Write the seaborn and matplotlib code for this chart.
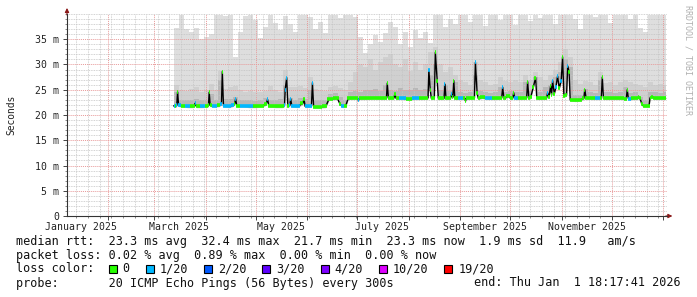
import numpy as np
import matplotlib
matplotlib.use("Agg")
import matplotlib.pyplot as plt
from matplotlib.patches import Rectangle
import seaborn as sns

# ---------------- data (x = days since 2025-01-01, y = milliseconds) ----------------
smoke_days = [70.5, 73.5, 76.5, 79.5, 82.5, 85.5, 88.5, 91.5, 94.5, 97.5,
              100.5, 103.5, 106.5, 109.5, 112.5, 115.5, 118.5, 121.5, 124.5, 127.5,
              130.5, 133.5, 136.5, 139.5, 142.5, 145.5, 148.5, 151.5, 154.5, 157.5,
              160.5, 163.5, 166.5, 169.5, 172.5, 175.5, 178.5, 181.5, 184.5, 187.5,
              190.5, 193.5, 196.5, 199.5, 202.5, 205.5, 208.5, 211.5, 214.5, 217.5,
              220.5, 223.5, 226.5, 229.5, 232.5, 235.5, 238.5, 241.5, 244.5, 247.5,
              250.5, 253.5, 256.5, 259.5, 262.5, 265.5, 268.5, 271.5, 274.5, 277.5,
              280.5, 283.5, 286.5, 289.5, 292.5, 295.5, 298.5, 301.5, 304.5, 307.5,
              310.5, 313.5, 316.5, 319.5, 322.5, 325.5, 328.5, 331.5, 334.5, 337.5,
              340.5, 343.5, 346.5, 349.5, 352.5, 355.5, 358.5, 361.5, 364.5, 366.4]

smoke_max = [37.2, 39.8, 37.0, 36.5, 37.3, 35.0, 35.4, 36.0, 39.8, 39.8,
             39.6, 39.8, 31.5, 36.4, 39.6, 39.8, 38.9, 35.2, 37.5, 39.8,
             38.2, 36.8, 39.6, 38.0, 36.5, 39.8, 39.8, 39.5, 37.0, 38.4,
             36.2, 39.8, 39.8, 39.2, 39.8, 39.8, 39.5, 35.5, 32.2, 34.0,
             35.8, 34.5, 36.2, 38.4, 37.4, 34.0, 36.5, 33.5, 36.8, 35.2,
             36.4, 34.2, 39.8, 39.8, 37.5, 39.0, 38.0, 39.8, 39.8, 38.5,
             39.8, 39.8, 37.6, 39.8, 39.8, 38.8, 39.8, 39.8, 37.8, 39.8,
             39.8, 38.6, 39.8, 39.2, 39.8, 39.8, 38.0, 39.8, 39.8, 39.8,
             39.0, 37.0, 39.8, 39.8, 39.4, 39.8, 39.8, 38.2, 39.8, 39.8,
             39.8, 39.0, 39.8, 37.2, 36.4, 39.8, 39.8, 39.8, 39.8, 39.8]

smoke_mid = [26.0, 25.0, 24.8, 25.2, 25.5, 24.6, 25.0, 26.2, 25.0, 28.8,
             25.2, 25.5, 25.8, 25.0, 24.6, 24.8, 24.5, 24.6, 24.8, 25.8,
             25.0, 24.5, 29.0, 25.5, 25.5, 25.8, 25.4, 27.5, 25.2, 25.0,
             24.8, 25.6, 25.8, 25.4, 25.0, 26.5, 28.5, 30.0, 29.5, 31.0,
             29.0, 30.5, 31.5, 32.0, 30.0, 29.5, 31.0, 28.8, 30.5, 29.0,
             30.0, 32.5, 33.5, 30.0, 28.5, 29.5, 28.0, 27.0, 26.5, 26.0,
             30.5, 27.0, 26.5, 26.0, 26.2, 27.5, 26.8, 26.5, 27.0, 26.5,
             28.0, 27.0, 28.5, 27.5, 27.0, 28.0, 29.0, 30.5, 33.0, 31.5,
             27.0, 26.2, 26.8, 26.5, 26.0, 28.5, 26.4, 26.5, 26.0, 26.5,
             27.0, 26.5, 26.2, 26.0, 25.5, 26.5, 26.0, 26.2, 26.0, 26.0]

smoke_in = [24.5, 23.0, 22.9, 23.0, 23.2, 22.9, 23.0, 24.2, 23.0, 27.0,
            23.1, 23.2, 23.6, 23.0, 22.9, 23.0, 22.8, 23.0, 23.4, 23.0,
            22.9, 23.2, 26.0, 23.4, 23.0, 23.4, 23.1, 25.0, 22.9, 23.0,
            22.9, 24.2, 24.4, 23.5, 23.0, 24.5, 24.8, 24.6, 25.0, 24.9,
            25.2, 24.8, 26.0, 25.0, 24.8, 25.3, 25.0, 24.9, 25.4, 25.0,
            25.2, 28.0, 30.0, 25.0, 26.0, 24.8, 26.5, 24.6, 24.4, 24.5,
            28.0, 24.8, 24.5, 24.4, 24.6, 25.6, 24.6, 24.8, 24.5, 24.6,
            26.5, 24.8, 27.5, 24.6, 25.5, 26.0, 27.5, 28.5, 31.0, 29.5,
            24.0, 23.9, 25.2, 24.5, 24.4, 27.0, 24.6, 24.5, 24.4, 24.5,
            25.5, 24.4, 24.6, 23.5, 23.0, 24.5, 24.6, 24.4, 24.6, 24.6]

med_days = [70.5, 72.0, 72.4, 72.9, 73.5, 76.0, 79.0, 82.0, 82.8, 83.4,
            84.2, 88.0, 91.0, 91.5, 91.9, 92.5, 95.0, 98.0, 99.3, 99.8,
            100.5, 104.0, 106.0, 107.2, 107.8, 108.5, 112.0, 116.0, 120.0, 124.0,
            126.2, 127.0, 127.8, 132.0, 136.0, 137.2, 137.6, 138.5, 139.2, 140.4,
            140.9, 141.6, 145.0, 148.2, 148.9, 149.6, 153.4, 154.0, 154.7, 158.0,
            162.0, 164.0, 169.0, 170.5, 172.0, 174.0, 175.5, 181.0, 181.6, 182.3,
            186.0, 191.0, 196.0, 198.5, 199.0, 199.7, 203.0, 203.6, 204.3, 208.0,
            212.0, 216.0, 220.0, 223.5, 224.0, 224.8, 225.5, 227.3, 227.9, 229.0,
            229.7, 233.1, 233.7, 234.3, 237.1, 237.7, 238.4, 239.0, 239.6, 243.0,
            245.5, 246.0, 246.6, 251.4, 252.0, 253.0, 253.7, 256.0, 260.0, 264.0,
            267.8, 268.4, 269.1, 272.2, 273.0, 274.5, 275.0, 275.7, 279.0, 282.8,
            283.4, 284.1, 285.3, 286.8, 288.2, 288.9, 292.0, 294.8, 295.4, 296.2,
            297.2, 297.8, 298.4, 299.4, 300.4, 301.4, 302.4, 303.6, 304.4, 305.2,
            306.8, 307.5, 308.3, 309.0, 312.0, 315.0, 317.2, 317.8, 318.5, 322.0,
            326.0, 327.7, 328.3, 329.0, 333.0, 337.0, 340.0, 342.7, 343.3, 344.0,
            347.0, 349.5, 350.2, 351.0, 352.0, 353.0, 356.4, 357.0, 358.5, 359.5,
            363.0, 366.4]

med_ms = [21.8, 21.8, 21.9, 24.6, 21.9, 21.8, 21.7, 21.7, 21.8, 22.3,
          21.7, 21.7, 21.8, 21.9, 24.5, 21.9, 21.8, 21.9, 22.2, 28.6,
          21.8, 21.7, 21.9, 22.2, 23.2, 21.8, 21.8, 21.7, 21.7, 21.8,
          22.2, 23.1, 21.8, 21.7, 21.7, 21.9, 25.0, 27.4, 21.8, 21.9,
          23.2, 21.8, 21.7, 22.3, 23.2, 21.7, 21.8, 26.4, 21.6, 21.6,
          21.7, 23.2, 23.3, 22.2, 21.7, 21.8, 23.3, 23.4, 22.9, 23.3,
          23.3, 23.4, 23.3, 23.4, 26.3, 23.3, 23.4, 24.2, 23.3, 23.3,
          23.2, 23.3, 23.3, 23.4, 28.9, 25.0, 23.3, 23.4, 32.4, 26.8,
          23.3, 23.3, 26.1, 23.3, 23.4, 24.1, 23.5, 26.8, 23.3, 23.3,
          23.3, 22.8, 23.3, 23.4, 30.4, 24.4, 23.3, 23.5, 23.3, 23.3,
          23.4, 25.5, 23.3, 23.8, 23.3, 23.4, 24.4, 23.3, 23.3, 23.4,
          26.6, 23.4, 23.6, 25.5, 27.4, 23.3, 23.3, 23.4, 24.4, 23.5,
          25.7, 24.0, 26.8, 24.2, 25.5, 27.7, 25.3, 26.8, 31.5, 23.8,
          24.0, 29.7, 28.6, 23.0, 22.9, 23.0, 23.3, 25.0, 23.4, 23.3,
          23.3, 23.4, 27.5, 23.3, 23.3, 23.3, 23.3, 23.2, 25.0, 23.2,
          23.3, 23.3, 23.6, 23.3, 22.2, 21.8, 21.8, 23.4, 23.6, 23.3,
          23.3, 23.3]

med_loss = [1, 0, 1, 0, 1, 0, 1, 0, 0, 1,
            0, 1, 0, 0, 0, 0, 1, 0, 1, 0,
            1, 1, 1, 0, 1, 0, 1, 1, 0, 0,
            0, 1, 0, 0, 0, 1, 1, 1, 0, 1,
            1, 1, 1, 0, 0, 1, 1, 1, 0, 0,
            0, 0, 0, 0, 1, 0, 0, 0, 1, 0,
            0, 0, 0, 0, 0, 0, 0, 0, 0, 1,
            0, 1, 0, 0, 1, 0, 0, 0, 0, 0,
            0, 0, 1, 0, 0, 1, 0, 0, 0, 1,
            0, 0, 0, 0, 1, 0, 0, 0, 1, 0,
            0, 1, 0, 0, 0, 0, 0, 1, 0, 0,
            0, 0, 0, 0, 0, 0, 0, 0, 1, 0,
            0, 0, 1, 0, 1, 1, 0, 1, 0, 0,
            0, 1, 0, 0, 0, 0, 0, 0, 0, 0,
            1, 0, 0, 0, 0, 0, 0, 0, 0, 1,
            0, 0, 0, 0, 0, 0, 0, 0, 0, 0,
            0, 0]

loss_labels = ["0", "1/20", "2/20", "3/20", "4/20", "10/20", "19/20"]
loss_counts = [0, 1, 2, 3, 4, 10, 19]
loss_colors = ["#26ff00", "#00b8ff", "#0059ff", "#5e00ff", "#7e00ff", "#dd00ff", "#ff0000"]

month_starts = [0, 31, 59, 90, 120, 151, 181, 212, 243, 273, 304, 334, 365]
month_label_days = [15, 74, 135, 196, 258, 319]
month_labels = ["January 2025", "March 2025", "May 2025", "July 2025",
                "September 2025", "November 2025"]
ytick_vals = [0, 5, 10, 15, 20, 25, 30, 35]
ytick_labels = ["0", "5 m", "10 m", "15 m", "20 m", "25 m", "30 m", "35 m"]

line_rtt = "median rtt:  23.3 ms avg  32.4 ms max  21.7 ms min  23.3 ms now  1.9 ms sd  11.9   am/s"
line_loss = "packet loss: 0.02 % avg  0.89 % max  0.00 % min  0.00 % now"
line_color = "loss color:"
line_probe = "probe:       20 ICMP Echo Pings (56 Bytes) every 300s"
line_end = "end: Thu Jan  1 18:17:41 2026"

# ---------------- style ----------------
sns.set_theme(style="white")
plt.rcParams["font.family"] = ["DejaVu Sans Mono"]

W, H = 697, 297
fig = plt.figure(figsize=(W / 100, H / 100), dpi=100)
fig.patch.set_facecolor("white")
ax = fig.add_axes([67 / W, (H - 216) / H, 600 / W, 202 / H])
ax.set_facecolor("white")

# smoke layers
ax.fill_between(smoke_days, 0, smoke_max, step="post", color="#dedede", lw=0, zorder=1.0)
ax.fill_between(smoke_days, 0, smoke_mid, step="post", color="#d0d0d0", lw=0, zorder=1.1)
ax.fill_between(smoke_days, 0, smoke_in, step="post", color="#b8b8b8", lw=0, zorder=1.2)
# nothing below the fastest pings
med_arr = np.array(med_ms)
ax.fill_between(med_days, 0, med_arr - 0.25, color="white", lw=0, zorder=1.3)

# median line
sns.lineplot(x=med_days, y=med_ms, ax=ax, color="black", lw=1.0, zorder=3,
             estimator=None, sort=False)

# loss coloured band around the median
d = np.array(med_days)
mids = (d[:-1] + d[1:]) / 2
left = np.concatenate([[d[0]], mids])
right = np.concatenate([mids, [d[-1]]])
cols = []
for l in med_loss:
    c = loss_colors[0]
    for cnt, colr in zip(loss_counts, loss_colors):
        if l >= cnt:
            c = colr
    cols.append(c)
ax.hlines(med_arr, left, right, colors=cols, lw=2.6, zorder=4)

# axes (ticks first, limits afterwards so ticks cannot widen the view)
ax.set_xticks(month_starts)
ax.set_xticks(list(range(5, 368, 7)), minor=True)
ax.set_xticklabels([])
ax.set_yticks(ytick_vals)
ax.set_yticklabels(ytick_labels, fontsize=7.1, color="#222222")
ax.set_yticks(list(range(0, 41)), minor=True)
ax.set_xlim(6.4, 367.2)
ax.set_ylim(0, 40)
ax.set_axisbelow(False)
ax.grid(which="major", axis="both", color="#e89a9a", lw=0.7, ls=(0, (1, 1)))
ax.grid(which="minor", axis="both", color="#c4c4c4", lw=0.6, ls=(0, (1, 1)))
ax.tick_params(which="major", direction="out", length=3, width=0.7, color="#444444", pad=2.5,
               left=True, bottom=True)
ax.tick_params(which="minor", direction="out", length=1.5, width=0.6, color="#777777",
               left=True, bottom=True)
for s in ["top", "right"]:
    ax.spines[s].set_visible(False)
for s in ["left", "bottom"]:
    ax.spines[s].set_color("#333333")
    ax.spines[s].set_linewidth(0.8)
    ax.spines[s].set_zorder(5)

for dday, lab in zip(month_label_days, month_labels):
    ax.annotate(lab, xy=(dday, 0), xycoords=("data", "axes fraction"),
                xytext=(0, -4.0), textcoords="offset points", ha="center", va="top",
                fontsize=7.1, color="#222222", annotation_clip=False)

# axis arrows
ax.annotate("", xy=(0, 1.03), xytext=(0, 0.995), xycoords="axes fraction",
            arrowprops=dict(arrowstyle="-|>", color="#8b1a1a", lw=0.8, mutation_scale=6,
                            shrinkA=0, shrinkB=0), annotation_clip=False)
ax.annotate("", xy=(1.009, 0), xytext=(0.998, 0), xycoords="axes fraction",
            arrowprops=dict(arrowstyle="-|>", color="#8b1a1a", lw=0.8, mutation_scale=6,
                            shrinkA=0, shrinkB=0), annotation_clip=False)

# ---------------- overlay for texts (pixel coordinates) ----------------
ov = fig.add_axes([0, 0, 1, 1], facecolor="none")
ov.set_xlim(0, W)
ov.set_ylim(H, 0)
ov.axis("off")

ov.text(11, 115, "Seconds", rotation=90, ha="center", va="center", fontsize=6.9, color="#222222")
ov.text(688, 60, "RRDTOOL / TOBI OETIKER", rotation=270, ha="center", va="center",
        fontsize=6.0, color="#b0b0b0")

fs = 8.45
ov.text(16, 241, line_rtt, ha="left", va="center", fontsize=fs, color="#111111")
ov.text(16, 255, line_loss, ha="left", va="center", fontsize=fs, color="#111111")
ov.text(16, 269, line_color, ha="left", va="center", fontsize=fs, color="#111111")
ov.text(16, 283, line_probe, ha="left", va="center", fontsize=fs, color="#111111")
ov.text(681, 283, line_end, ha="right", va="center", fontsize=fs, color="#111111")

bx = 108.6
for lab, colr in zip(loss_labels, loss_colors):
    ov.add_patch(Rectangle((bx, 265), 8, 8, facecolor=colr, edgecolor="black", lw=0.8))
    ov.text(bx + 14, 269, lab, ha="left", va="center", fontsize=fs, color="#111111")
    bx += 14 + len(lab) * 7.08 + 16

fig.savefig("out.png", dpi=100, facecolor="white")
